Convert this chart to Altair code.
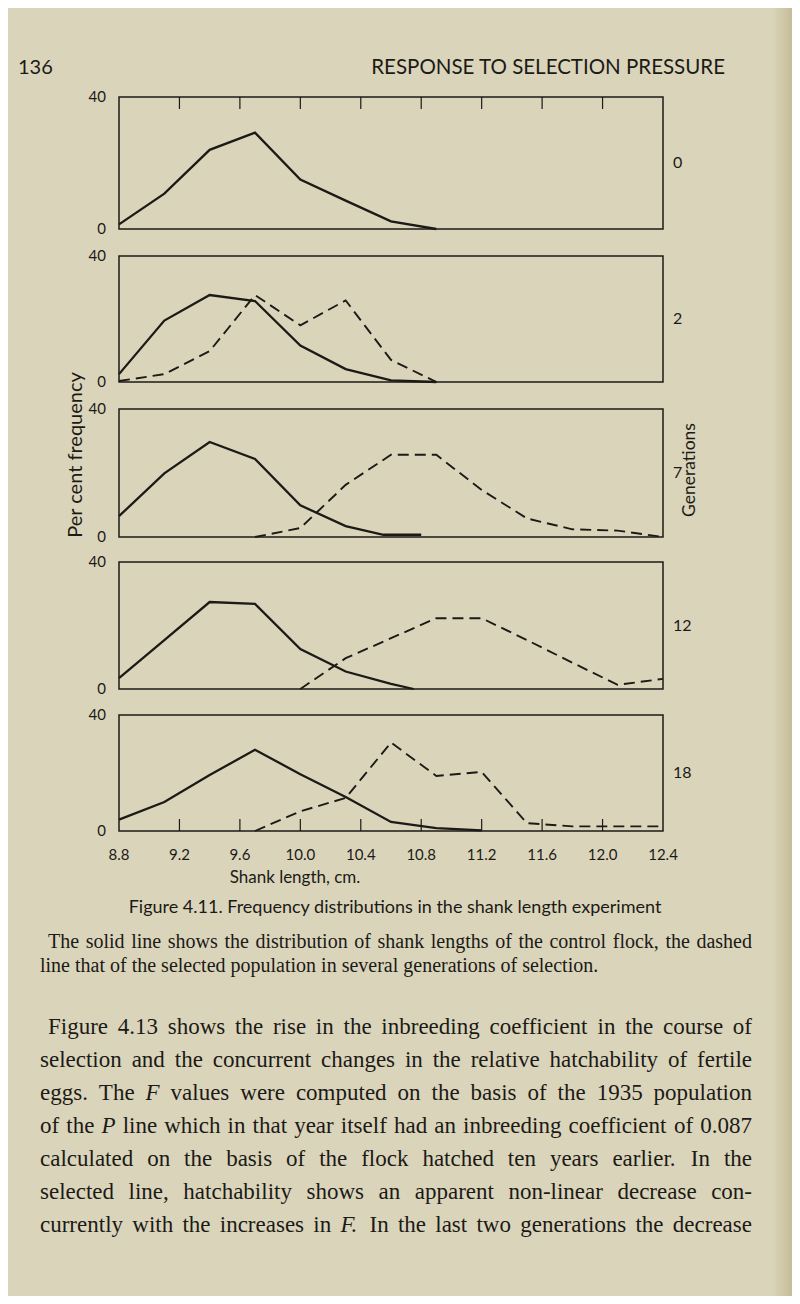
import altair as alt
import pandas as pd

# ---------------- data ----------------
GENERATIONS = ["0", "2", "7", "12", "18"]

ctrl_x_g0 = [8.8, 9.1, 9.4, 9.7, 10.0, 10.3, 10.6, 10.9]
ctrl_y_g0 = [1.4, 10.7, 24.0, 29.2, 15.0, 8.6, 2.3, 0.0]
sel_x_g0 = []
sel_y_g0 = []

ctrl_x_g2 = [8.8, 9.1, 9.4, 9.7, 10.0, 10.3, 10.6, 10.9]
ctrl_y_g2 = [2.5, 19.5, 27.6, 25.7, 11.6, 4.1, 0.5, 0.0]
sel_x_g2 = [8.8, 9.1, 9.4, 9.7, 10.0, 10.3, 10.6, 10.9]
sel_y_g2 = [0.3, 2.5, 9.8, 27.6, 18.0, 25.9, 7.0, 0.0]

ctrl_x_g7 = [8.8, 9.1, 9.4, 9.7, 10.0, 10.3, 10.55, 10.8]
ctrl_y_g7 = [6.5, 19.9, 29.7, 24.4, 9.9, 3.4, 0.7, 0.7]
sel_x_g7 = [9.7, 10.0, 10.3, 10.6, 10.9, 11.2, 11.5, 11.8, 12.1, 12.4]
sel_y_g7 = [0.0, 2.8, 16.3, 25.7, 25.7, 14.7, 5.8, 2.4, 2.0, 0.0]

ctrl_x_g12 = [8.8, 9.1, 9.4, 9.7, 10.0, 10.3, 10.6, 10.75]
ctrl_y_g12 = [3.4, 15.4, 27.4, 26.8, 12.6, 5.5, 1.6, 0.0]
sel_x_g12 = [10.0, 10.3, 10.6, 10.9, 11.2, 11.5, 11.8, 12.1, 12.4]
sel_y_g12 = [0.0, 9.7, 16.0, 22.3, 22.3, 15.4, 8.3, 1.3, 3.2]

ctrl_x_g18 = [8.8, 9.1, 9.4, 9.7, 10.0, 10.3, 10.6, 10.9, 11.2]
ctrl_y_g18 = [3.9, 10.0, 19.3, 28.0, 19.6, 11.7, 3.1, 1.0, 0.2]
sel_x_g18 = [9.7, 10.0, 10.3, 10.6, 10.9, 11.2, 11.5, 11.8, 12.1, 12.4]
sel_y_g18 = [0.0, 6.8, 11.4, 30.5, 19.0, 20.4, 2.7, 1.6, 1.6, 1.6]

X_DOMAIN = [8.8, 12.4]
Y_DOMAIN = [0, 40]
X_TICKS = [9.2, 9.6, 10.0, 10.4, 10.8, 11.2, 11.6, 12.0]
X_LABELS = ["8.8", "9.2", "9.6", "10.0", "10.4", "10.8", "11.2", "11.6", "12.0", "12.4"]
Y_LABELS = ["0", "40"]

HEADER_NUMBER = "136"
HEADER_TITLE = "RESPONSE TO SELECTION PRESSURE"
X_TITLE = "Shank length, cm."
Y_TITLE = "Per cent frequency"
RIGHT_TITLE = "Generations"
FIG_CAPTION = "Figure 4.11.   Frequency distributions in the shank length experiment"
CAPTION_LINES = [
    "The solid line shows the distribution of shank lengths of the control flock, the dashed",
    "line that of the selected population in several generations of selection.",
]
BODY_LINES = [
    "Figure 4.13 shows the rise in the inbreeding coefficient in the course of",
    "selection and the concurrent changes in the relative hatchability of fertile",
    "eggs.  The *F values were computed on the basis of the 1935 population",
    "of the *P line which in that year itself had an inbreeding coefficient of 0.087",
    "calculated on the basis of the flock hatched ten years earlier.  In the",
    "selected line, hatchability shows an apparent non-linear decrease con-",
    "currently with the increases in *F.  In the last two generations the decrease",
]

panels = [
    (ctrl_x_g0, ctrl_y_g0, sel_x_g0, sel_y_g0),
    (ctrl_x_g2, ctrl_y_g2, sel_x_g2, sel_y_g2),
    (ctrl_x_g7, ctrl_y_g7, sel_x_g7, sel_y_g7),
    (ctrl_x_g12, ctrl_y_g12, sel_x_g12, sel_y_g12),
    (ctrl_x_g18, ctrl_y_g18, sel_x_g18, sel_y_g18),
]

# ---------------- layout (page pixels) ----------------
OFF = 8
W, H = 784, 1288
LEFT, RIGHT = 119, 663
TOPS = [97, 256, 409, 562, 715]
BOTTOMS = [229, 382, 537, 689, 831]
INK = "#1c1a17"
SANS = "Lato"
SERIF = "Liberation Serif"
BG = "#dad5ba"

# Times/Liberation Serif advance widths (1/1000 em) for justified text placement
_TW = {" ": 250, ",": 250, ".": 250, "-": 333, ":": 278, ";": 278, "'": 180,
       "a": 444, "b": 500, "c": 444, "d": 500, "e": 444, "f": 333, "g": 500, "h": 500,
       "i": 278, "j": 278, "k": 500, "l": 278, "m": 778, "n": 500, "o": 500, "p": 500,
       "q": 500, "r": 333, "s": 389, "t": 278, "u": 500, "v": 500, "w": 722, "x": 500,
       "y": 500, "z": 444, "F": 556, "I": 333, "P": 556, "T": 611}


def text_width(s, size, italic=False):
    w = 0
    for ch in s:
        if ch.isdigit():
            w += 500
        elif italic and ch in "FP":
            w += 611
        else:
            w += _TW.get(ch, 722 if ch.isupper() else 500)
    return w * size / 1000.0


def justify(lines, x_left, x_first, x_right, y0, dy, size, last_natural):
    rows = []
    for k, line in enumerate(lines):
        words = line.split()
        x0 = x_first if k == 0 else x_left
        widths = [text_width(w.lstrip("*"), size, w.startswith("*")) for w in words]
        natural_gap = 0.25 * size
        if k == len(lines) - 1 and last_natural:
            gap = natural_gap
        else:
            gap = (x_right - x0 - sum(widths)) / (len(words) - 1)
        x = x0
        for w, wd in zip(words, widths):
            rows.append({"px": x - OFF, "py": y0 + dy * k - OFF,
                         "t": w.lstrip("*"), "it": "italic" if w.startswith("*") else "normal"})
            x += wd + gap
    return pd.DataFrame(rows)


def word_layer(df, size):
    layer_list = []
    for style in ["normal", "italic"]:
        sub = df[df["it"] == style]
        if len(sub) == 0:
            continue
        layer_list.append(
            alt.Chart(sub).mark_text(align="left", baseline="middle", font=SERIF,
                                     fontSize=size, fontStyle=style, color=INK).encode(
                x=alt.X("px:Q", scale=None, axis=None),
                y=alt.Y("py:Q", scale=None, axis=None), text="t:N")
        )
    return layer_list


xs = alt.Scale(domain=X_DOMAIN, range=[LEFT - OFF, RIGHT - OFF], nice=False, zero=False)

layers = []
layers.append(
    alt.Chart(pd.DataFrame({"t": [0]})).mark_rect(
        color=alt.LinearGradient(gradient="linear", x1=0, x2=1, y1=0, y2=0,
                                 stops=[alt.GradientStop(color=BG, offset=0),
                                        alt.GradientStop(color="#c6bc98", offset=1)])).encode(
        x=alt.value(772 - OFF), x2=alt.value(W), y=alt.value(0), y2=alt.value(H))
)

for i, (cx, cy, sx, sy) in enumerate(panels):
    top, bot = TOPS[i] - OFF, BOTTOMS[i] - OFF
    ys = alt.Scale(domain=Y_DOMAIN, range=[bot, top], nice=False, zero=False)

    frame_df = pd.DataFrame({"x0": [X_DOMAIN[0]], "x1": [X_DOMAIN[1]],
                             "y0": [Y_DOMAIN[0]], "y1": [Y_DOMAIN[1]]})
    layers.append(
        alt.Chart(frame_df).mark_rect(fillOpacity=0, stroke=INK, strokeWidth=1.5).encode(
            x=alt.X("x0:Q", scale=xs, axis=None), x2="x1:Q",
            y=alt.Y("y0:Q", scale=ys, axis=None), y2="y1:Q")
    )
    layers.append(
        alt.Chart(pd.DataFrame({"x": cx, "y": cy})).mark_line(
            color=INK, strokeWidth=2.3, strokeJoin="miter").encode(
            x=alt.X("x:Q", scale=xs, axis=None),
            y=alt.Y("y:Q", scale=ys, axis=None))
    )
    if sx:
        layers.append(
            alt.Chart(pd.DataFrame({"x": sx, "y": sy})).mark_line(
                color=INK, strokeWidth=1.9, strokeDash=[11, 6]).encode(
                x=alt.X("x:Q", scale=xs, axis=None),
                y=alt.Y("y:Q", scale=ys, axis=None))
        )
    layers.append(
        alt.Chart(pd.DataFrame({"v": [float(t) for t in Y_LABELS], "t": Y_LABELS})).mark_text(
            align="right", baseline="middle", font=SANS, fontSize=15, color=INK).encode(
            x=alt.value(LEFT - OFF - 13),
            y=alt.Y("v:Q", scale=ys, axis=None), text="t:N")
    )
    layers.append(
        alt.Chart(pd.DataFrame({"v": [20.0], "t": [GENERATIONS[i]]})).mark_text(
            align="left", baseline="middle", font=SANS, fontSize=16, color=INK).encode(
            x=alt.value(RIGHT - OFF + 10),
            y=alt.Y("v:Q", scale=ys, axis=None), text="t:N")
    )
    if i == 0:
        layers.append(
            alt.Chart(pd.DataFrame({"t": X_TICKS})).mark_rule(color=INK, strokeWidth=1.2).encode(
                x=alt.X("t:Q", scale=xs, axis=None),
                y=alt.value(top), y2=alt.value(top + 12))
        )
    if i == len(panels) - 1:
        layers.append(
            alt.Chart(pd.DataFrame({"t": X_TICKS})).mark_rule(color=INK, strokeWidth=1.2).encode(
                x=alt.X("t:Q", scale=xs, axis=None),
                y=alt.value(bot - 12), y2=alt.value(bot))
        )
        layers.append(
            alt.Chart(pd.DataFrame({"v": [float(t) for t in X_LABELS], "t": X_LABELS})).mark_text(
                align="center", baseline="middle", font=SANS, fontSize=15, color=INK).encode(
                x=alt.X("v:Q", scale=xs, axis=None),
                y=alt.value(855 - OFF), text="t:N")
        )


def txt(s, x, y, size, font=SANS, align="left", angle=0, color=INK):
    kw = dict(align=align, baseline="middle", font=font, fontSize=size, color=color)
    if angle:
        kw["angle"] = angle
    return alt.Chart(pd.DataFrame({"t": [s]})).mark_text(**kw).encode(
        x=alt.value(x - OFF), y=alt.value(y - OFF), text="t:N")


layers.append(txt(HEADER_NUMBER, 18, 68, 20))
layers.append(txt(HEADER_TITLE, 725, 68, 20.5, align="right"))
layers.append(txt(X_TITLE, 295, 878, 17, align="center"))
layers.append(txt(Y_TITLE, 76, 455, 20, align="center", angle=270))
layers.append(txt(RIGHT_TITLE, 690, 470, 17.5, align="center", angle=270))
layers.append(txt(FIG_CAPTION, 395, 908, 18, align="center"))

cap_df = justify(CAPTION_LINES, 40, 48, 752, 942, 24, 20, last_natural=True)
layers += word_layer(cap_df, 20)
body_df = justify(BODY_LINES, 40, 48, 752, 1027, 33, 23, last_natural=False)
layers += word_layer(body_df, 23)

chart = alt.layer(*layers).resolve_scale(y="independent", x="independent").properties(
    width=W, height=H,
    autosize=alt.AutoSizeParams(type="none"),
    padding=0,
    background=BG,
).configure_view(strokeOpacity=0)

chart.save("out.html", embed_options={"renderer": "svg", "actions": False})
